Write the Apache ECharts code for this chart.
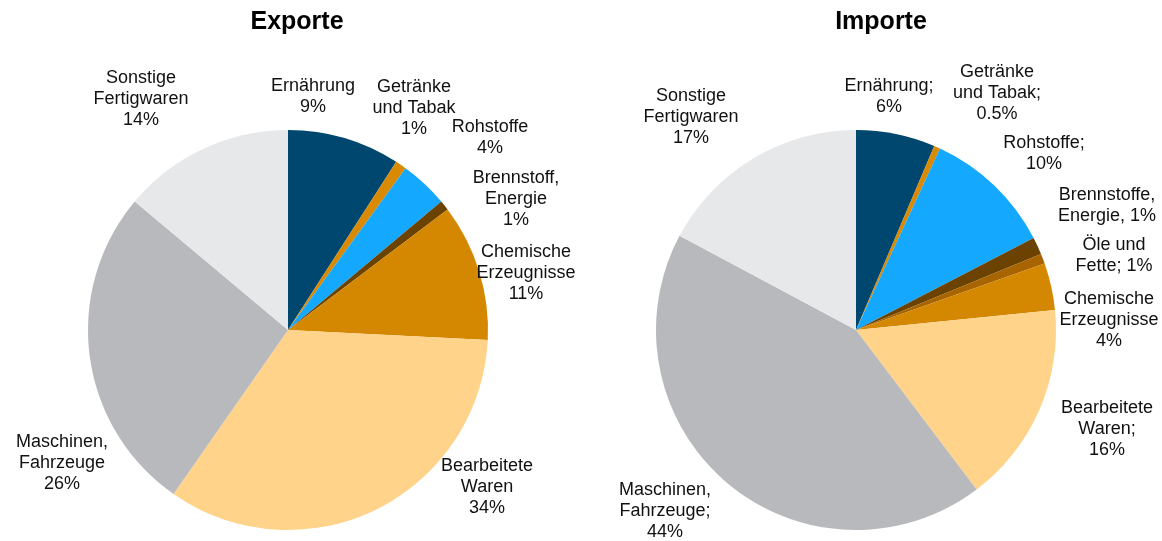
<!DOCTYPE html>
<html>
<head>
<meta charset="utf-8">
<script src="https://cdn.jsdelivr.net/npm/echarts@6/dist/echarts.min.js"></script>
<style>
  html,body{margin:0;padding:0;background:#fff;}
  #main{width:1162px;height:541px;}
</style>
</head>
<body>
<div id="main"></div>
<script>
// Anteile (%)
var exportNames = ['Ernährung','Getränke und Tabak','Rohstoffe','Brennstoff, Energie','Chemische Erzeugnisse','Bearbeitete Waren','Maschinen, Fahrzeuge','Sonstige Fertigwaren'];
var exportValues = [9.1, 0.9, 3.9, 0.8, 11.1, 33.9, 26.4, 13.9];
var exportLabels = ['Ernährung\n9%','Getränke\nund Tabak\n1%','Rohstoffe\n4%','Brennstoff,\nEnergie\n1%','Chemische\nErzeugnisse\n11%','Bearbeitete\nWaren\n34%','Maschinen,\nFahrzeuge\n26%','Sonstige\nFertigwaren\n14%'];

var importNames = ['Ernährung','Getränke und Tabak','Rohstoffe','Brennstoffe, Energie','Öle und Fette','Chemische Erzeugnisse','Bearbeitete Waren','Maschinen, Fahrzeuge','Sonstige Fertigwaren'];
var importValues = [6.4, 0.5, 10.5, 1.4, 0.8, 3.8, 16.3, 43.1, 17.2];
var importLabels = ['Ernährung;\n6%','Getränke\nund Tabak;\n0.5%','Rohstoffe;\n10%','Brennstoffe,\nEnergie, 1%','Öle und\nFette; 1%','Chemische\nErzeugnisse\n4%','Bearbeitete\nWaren;\n16%','Maschinen,\nFahrzeuge;\n44%','Sonstige\nFertigwaren\n17%'];

var exportColors = ['#00476f','#d98a00','#14a8ff','#6b4200','#d48700','#ffd38a','#b8b9bc','#e7e8ea'];
var importColors = ['#00476f','#d98a00','#14a8ff','#6b4200','#a86400','#d48700','#ffd38a','#b8b9bc','#e7e8ea'];

// Label-Mittelpunkte
var exportLabelPos = [[313,97],[414,108],[490,138],[516,199],[526,273],[487,487],[62,463],[141,99]];
var importLabelPos = [[889,97],[997,93],[1044,154],[1107,206],[1114,256],[1109,320],[1107,429],[665,511],[691,117]];

function buildData(names, values, colors){
	var arr = [];
	for(var i=0;i<names.length;i++){
		arr.push({name:names[i], value:values[i], itemStyle:{color:colors[i]}});
	}
	return arr;
}

function pieSeries(center, names, values, colors, labels, pos){
	return {
		type:'pie',
		center:center,
		radius:200,
		startAngle:90,
		clockwise:true,
		avoidLabelOverlap:false,
		silent:true,
		itemStyle:{borderWidth:0},
		label:{
			show:true,
			position:'outside',
			color:'#111',
			fontFamily:'Liberation Sans, Arial, sans-serif',
			fontSize:18,
			lineHeight:21,
			align:'center',
			formatter:function(p){ return labels[p.dataIndex]; }
		},
		labelLine:{show:false},
		labelLayout:function(p){
			var xy = pos[p.dataIndex];
			return {x:xy[0], y:xy[1], align:'center', verticalAlign:'middle'};
		},
		data:buildData(names, values, colors)
	};
}

var myChart = echarts.init(document.getElementById('main'));
var option = {
	backgroundColor:'#fff',
	animation:false,
	title:[
		{text:'Exporte', left:297, top:9, textAlign:'center', padding:0,
		 textStyle:{fontFamily:'Liberation Sans, Arial, sans-serif', fontSize:25, fontWeight:'bold', color:'#000', lineHeight:26}},
		{text:'Importe', left:881, top:9, textAlign:'center', padding:0,
		 textStyle:{fontFamily:'Liberation Sans, Arial, sans-serif', fontSize:25, fontWeight:'bold', color:'#000', lineHeight:26}}
	],
	series:[
		pieSeries([288,330], exportNames, exportValues, exportColors, exportLabels, exportLabelPos),
		pieSeries([856,330], importNames, importValues, importColors, importLabels, importLabelPos)
	]
};
myChart.setOption(option);
</script>
</body>
</html>
